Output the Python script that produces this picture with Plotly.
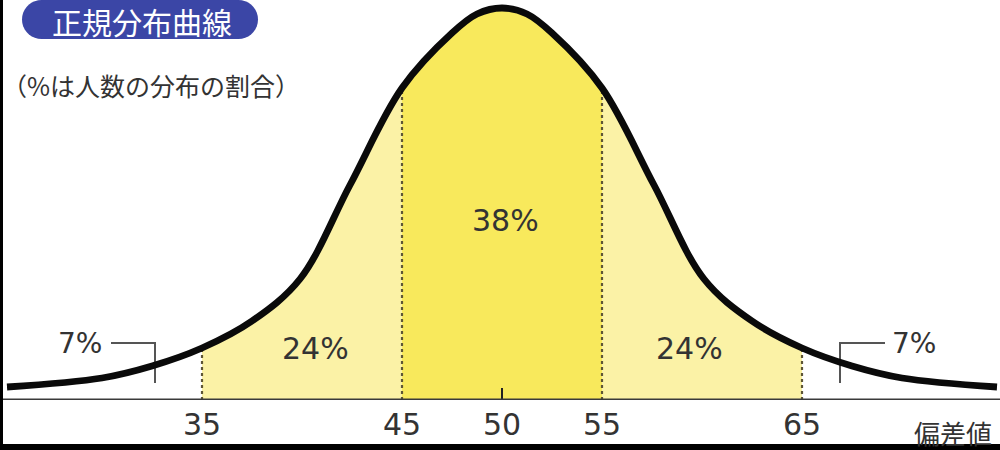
import math
import plotly.graph_objects as go

# ---- data (x = 偏差値, y = curve height in relative units) ----
curve_x = [25.25, 30, 32.5, 35, 37.5, 39.9, 42.4, 45, 47.5, 48.75, 50,
           51.25, 52.5, 55, 57.6, 60.1, 62.5, 65, 67.5, 70, 74.75]
curve_y = [13, 22, 34, 52, 79, 121, 215, 312, 367, 386, 392,
           386, 367, 312, 215, 121, 79, 52, 34, 22, 13]

tick_vals = [35, 45, 50, 55, 65]
tick_text = ["35", "45", "50", "55", "65"]
band_edges = [35, 45, 55, 65]

pct_labels = ["7%", "24%", "38%", "24%", "7%"]
pct_x = [28.9, 40.65, 50.15, 59.35, 70.6]
pct_y = [57, 52, 180, 52, 57]

title_text = "正規分布曲線"
subtitle_text = "（%は人数の分布の割合）"
axis_title = "偏差値"

LIGHT = "#FBF2A6"
BRIGHT = "#F8E95C"
NUMFONT = "DejaVu Sans"
JPFONT = "Noto Sans CJK JP"


def subset(lo, hi):
    xs, ys = [], []
    for a, b in zip(curve_x, curve_y):
        if lo <= a <= hi:
            xs.append(a)
            ys.append(b)
    return xs, ys


def value_at(v):
    return curve_y[curve_x.index(v)]


fig = go.Figure()

# fills
lx, ly = subset(35, 65)
fig.add_trace(go.Scatter(x=lx, y=ly, mode="lines", line=dict(width=0, shape="spline", color=LIGHT),
                         fill="tozeroy", fillcolor=LIGHT, hoverinfo="skip", showlegend=False))
cx, cy = subset(45, 55)
fig.add_trace(go.Scatter(x=cx, y=cy, mode="lines", line=dict(width=0, shape="spline", color=BRIGHT),
                         fill="tozeroy", fillcolor=BRIGHT, hoverinfo="skip", showlegend=False))

# dotted band edges
for e in band_edges:
    fig.add_trace(go.Scatter(x=[e, e], y=[0, value_at(e)], mode="lines",
                             line=dict(color="#5E5636", width=2.2, dash="dot"),
                             hoverinfo="skip", showlegend=False))

# small tick at 50
fig.add_trace(go.Scatter(x=[50, 50], y=[0, 12], mode="lines", line=dict(color="#222", width=2),
                         hoverinfo="skip", showlegend=False))

# leader lines for 7%
fig.add_trace(go.Scatter(x=[30.45, 32.65, 32.65], y=[57, 57, 17], mode="lines",
                         line=dict(color="#555", width=2), hoverinfo="skip", showlegend=False))
fig.add_trace(go.Scatter(x=[69.15, 66.9, 66.9], y=[57, 57, 17], mode="lines",
                         line=dict(color="#555", width=2), hoverinfo="skip", showlegend=False))

# the curve
fig.add_trace(go.Scatter(x=curve_x, y=curve_y, mode="lines",
                         line=dict(color="#0a0a0a", width=6.8, shape="spline"),
                         hoverinfo="skip", showlegend=False))

# baseline axis
fig.add_shape(type="line", xref="paper", yref="y", x0=0, x1=1, y0=0, y1=0,
              line=dict(color="#3a3a3a", width=3))

annotations = []
for v, t in zip(tick_vals, tick_text):
    annotations.append(dict(x=v, y=-0.06, xref="x", yref="paper", text=t, showarrow=False,
                            xanchor="center", yanchor="middle",
                            font=dict(family=NUMFONT, size=30, color="#333")))
for t, x, y in zip(pct_labels, pct_x, pct_y):
    size = 28 if t == "7%" else 30
    annotations.append(dict(x=x, y=y, xref="x", yref="y", text=t, showarrow=False,
                            xanchor="center", yanchor="middle",
                            font=dict(family=NUMFONT, size=size, color="#333")))

annotations.append(dict(x=0.912, y=-0.08, xref="paper", yref="paper", text=axis_title,
                        showarrow=False, xanchor="left", yanchor="middle",
                        font=dict(family=JPFONT, size=26, color="#333")))
annotations.append(dict(x=0.0, y=(400 - 85) / 400, xref="paper", yref="paper", text=subtitle_text,
                        showarrow=False, xanchor="left", yanchor="middle",
                        font=dict(family=JPFONT, size=25, color="#333")))
annotations.append(dict(x=142 / 1000, y=(400 - 21) / 400, xref="paper", yref="paper", text=title_text,
                        showarrow=False, xanchor="center", yanchor="middle",
                        font=dict(family=JPFONT, size=30, color="white")))


def P(px, py):
    return px / 1000.0, (400 - py) / 400.0


left, right, top, bottom = 22, 258, 0, 39
r = (bottom - top) / 2
cyp = top + r
pts = []
for i in range(0, 19):
    ang = -math.pi / 2 + math.pi * i / 18
    pts.append(P(right - r + r * math.cos(ang), cyp + r * math.sin(ang)))
for i in range(0, 19):
    ang = math.pi / 2 + math.pi * i / 18
    pts.append(P(left + r + r * math.cos(ang), cyp + r * math.sin(ang)))
path = "M " + " L ".join(f"{a:.5f},{b:.5f}" for a, b in pts) + " Z"
shapes = [
    dict(type="path", xref="paper", yref="paper", path=path, fillcolor="#3B46A6",
         line=dict(width=0), layer="above"),
    dict(type="rect", xref="paper", yref="paper", x0=0, x1=0.003, y0=-0.125, y1=1,
         fillcolor="black", line=dict(width=0), layer="above"),
    dict(type="rect", xref="paper", yref="paper", x0=0, x1=1, y0=-0.125, y1=-0.11,
         fillcolor="black", line=dict(width=0), layer="above"),
]
for s in shapes:
    fig.add_shape(**s)

fig.update_layout(
    width=1000, height=450,
    margin=dict(l=0, r=0, t=0, b=50, pad=0, autoexpand=False),
    paper_bgcolor="white", plot_bgcolor="white",
    xaxis=dict(range=[24.9, 74.9], visible=False, fixedrange=True),
    yaxis=dict(range=[0, 400], visible=False, fixedrange=True),
    annotations=annotations,
    showlegend=False,
)

fig.write_html("out.html", config={"displayModeBar": False},
               post_script="document.body.style.margin='0';document.body.style.overflow='hidden';")
